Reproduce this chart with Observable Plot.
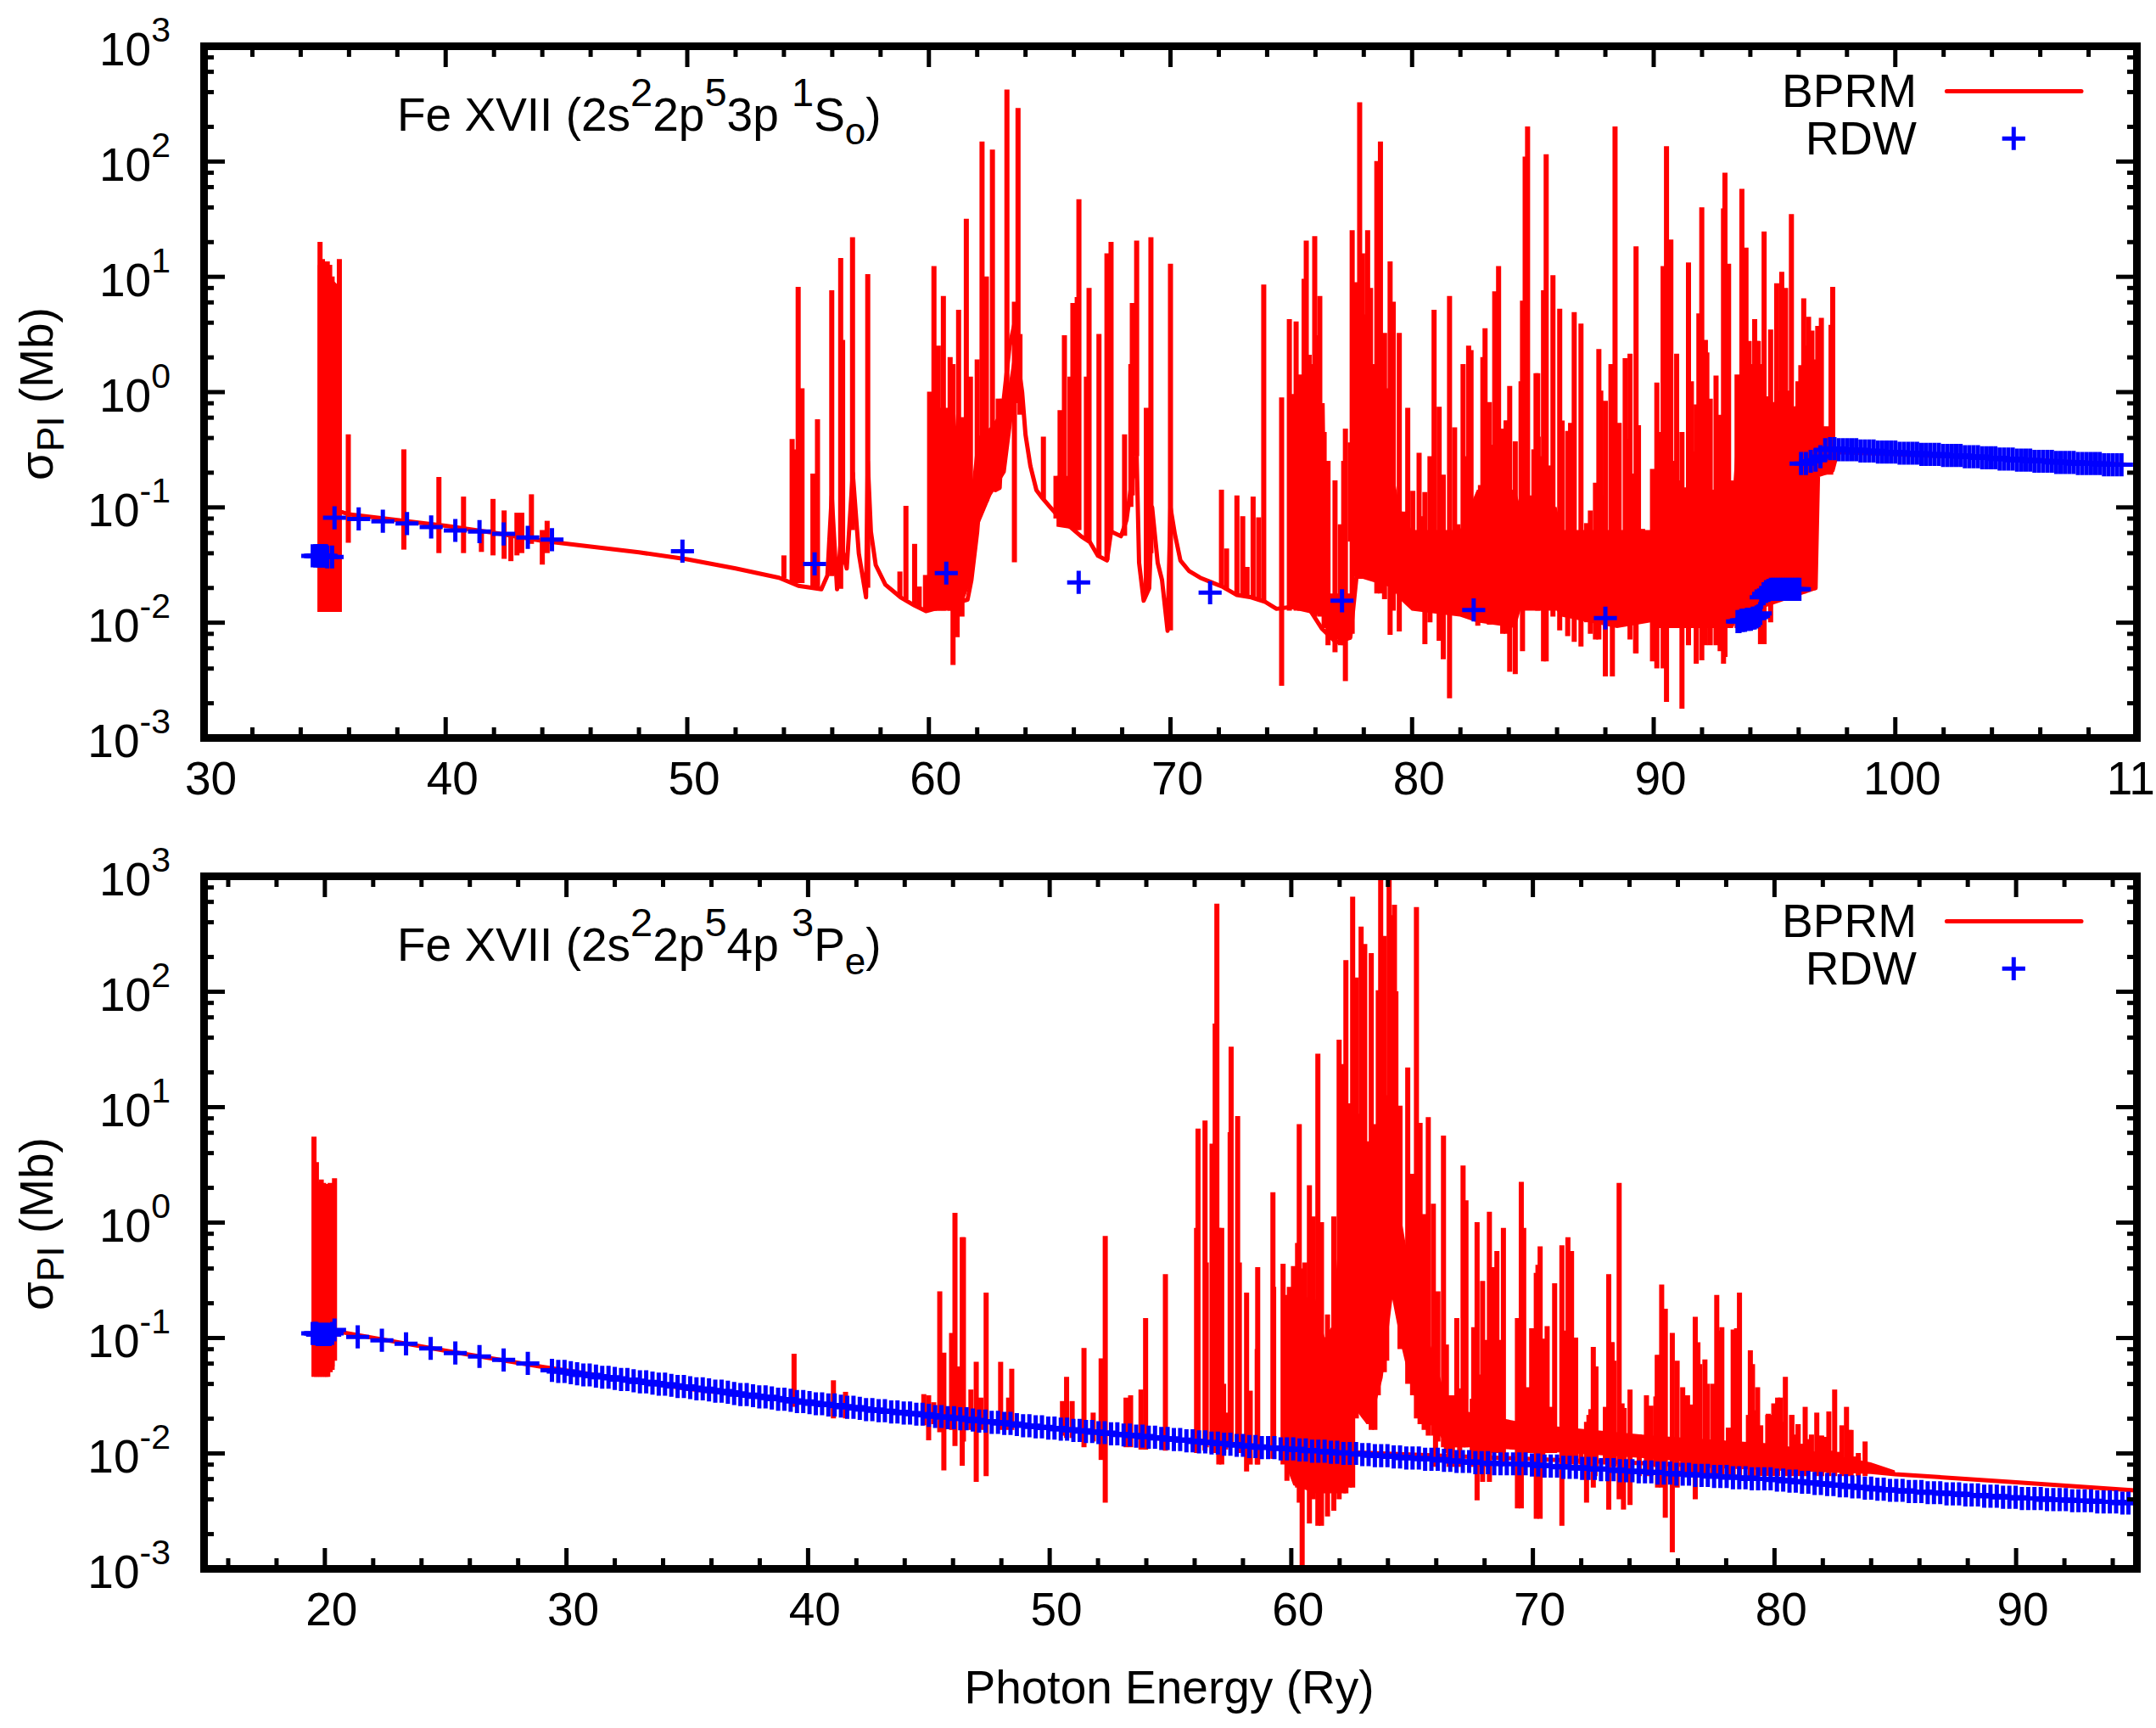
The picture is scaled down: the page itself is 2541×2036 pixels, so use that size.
<!DOCTYPE html>
<html><head><meta charset="utf-8">
<script src="https://cdn.jsdelivr.net/npm/d3@7"></script>
<script src="https://cdn.jsdelivr.net/npm/@observablehq/plot@0.6"></script>
<style>html,body{margin:0;padding:0;background:#fff;overflow:hidden}svg{display:block}</style>
</head><body><div id="c"></div>
<script>
// All sigma values below are log10(Mb).
const yMajor=[1e-3,1e-2,1e-1,1e0,1e1,1e2,1e3];
const yExponents=[-3,-2,-1,0,1,2,3];
const yMinor=[2e-3,4e-3,6e-3,8e-3,2e-2,4e-2,6e-2,8e-2,.2,.4,.6,.8,2,4,6,8,20,40,60,80,200,400,600,800];
const xMajorTop=[30,40,50,60,70,80,90,100,110];
const xMinorTop=[32,34,36,38,42,44,46,48,52,54,56,58,62,64,66,68,72,74,76,78,82,84,86,88,92,94,96,98,102,104,106,108];
const xMajorBottom=[20,30,40,50,60,70,80,90];
const xMinorBottom=[16,18,22,24,26,28,32,34,36,38,42,44,46,48,52,54,56,58,62,64,66,68,72,74,76,78,82,84,86,88,92,94];

// BPRM smooth background [E, log sigma]
const bprmBaseTop=[[35.7,-1.04],[36,-1.06],[38,-1.11],[40,-1.16],[42,-1.22],[44,-1.29],[46,-1.34],[48,-1.39],[50,-1.45],[52,-1.53],[53.8,-1.61],[54.6,-1.68],[55.55,-1.71],[55.8,-1.59],[55.98,-.9],[56.2,-1.71],[56.35,-1.3],[56.6,-1.53],[56.85,-.7],[57.1,-1.4],[57.4,-1.78],[57.47,-.6],[57.6,-1.21],[57.8,-1.5],[58.2,-1.67],[58.83,-1.78],[59.4,-1.85],[59.88,-1.9],[61.6,-1.8],[61.76,-1.63],[62,-1.21],[62.1,-.94],[62.4,-.94],[62.58,-.5],[62.75,-.85],[62.93,-.83],[63.1,-.06],[63.34,.4],[63.55,.6],[63.6,.4],[63.86,0],[64,-.37],[64.2,-.64],[64.45,-.85],[64.7,-.92],[65.03,-1],[65.5,-1.11],[65.85,-1.17],[66.3,-1.25],[66.66,-1.3],[67,-1.42],[67.37,-1.46],[67.54,-1.21],[67.95,-1.25],[68.18,-1.11],[68.36,-.83],[68.6,-.56],[68.7,-1.48],[68.89,-1.81],[69.12,-1.7],[69.24,-1],[69.47,-1.48],[69.65,-1.63],[69.88,-2.07],[70,-1],[70.18,-1.23],[70.41,-1.46],[70.76,-1.55],[71.23,-1.61],[71.7,-1.65],[72.17,-1.69],[72.75,-1.76],[73.34,-1.78],[73.92,-1.82],[74.39,-1.88],[75.09,-1.86],[75.68,-1.86],[76.26,-2.05],[76.85,-2.17],[77.44,-2.13],[77.7,-1.6],[96.7,-1.7],[96.8,-.72],[97.4,-.68],[97.6,-.52],[100,-.54],[105,-.58],[109.6,-.63]];
// BPRM resonance spikes [E, low, high]
const bprmPeaksTop=[[34.8,-1.91,1.3],[34.9,-1.91,1.15],[35,-1.91,1.13],[35.1,-1.91,1.13],[35.2,-1.91,1.1],[35.3,-1.91,1],[35.4,-1.91,.9],[35.5,-1.91,.9],[35.6,-1.91,1.15],
[35.97,-1.31,-.37],[38.27,-1.37,-.5],[39.72,-1.4,-.74],[40.74,-1.4,-.91],[41.48,-1.39,-1.2],[41.96,-1.42,-.93],[42.42,-1.45,-1.03],[42.7,-1.47,-1.25],[42.95,-1.42,-1.05],[43.15,-1.4,-1.05],[43.55,-1.32,-.89],[44,-1.5,-1.2],[44.2,-1.4,-1.12],
[54,-1.62,-1.42],[54.34,-1.66,-.41],[54.5,-1.66,-.5],[54.59,-1.66,.91],[54.75,-1.66,.03],[55.2,-1.7,-.71],[55.39,-1.7,-.24],[55.98,-1.6,.88],[56.35,-1.71,1.16],[56.43,-1.5,.45],[56.84,-1.2,1.34],[57.47,-1.7,1.02],[58.8,-1.78,-1.56],[59.05,-1.8,-.99],[59.41,-1.85,-1.32],[59.6,-1.87,-1.69],[59.86,-1.9,-1.59],[60.03,-1.9,0],[60.21,-1.9,1.09],[60.39,-1.9,.4],[60.6,-1.9,.83],[60.88,-1.9,.3],[61,-2.37,.24],[61.17,-2.13,-.3],[61.23,-1.9,.71],[61.37,-1.95,-.22],[61.55,-1.65,1.5],[61.72,-1.6,.13],[62,-1.1,.28],[62.2,-.9,2.17],[62.38,-.9,1],[62.63,-.85,2.1],[62.87,-.85,-.06],[63.05,-.6,-.06],[63.23,-.4,2.62],[63.54,-1.48,.78],[63.69,-.1,2.46],[63.77,-.2,.5],
[64.74,-.93,-.39],[65.26,-1.1,-.73],[65.43,-1.15,-.16],[65.61,-1.16,.49],[65.84,-1.17,.13],[65.96,-1.17,.77],[66.14,-1.2,.82],[66.21,-1.2,1.67],[66.52,-1.27,.13],[66.63,-1.3,.9],[67.04,-1.42,.5],[67.37,-1.46,1.2],[67.54,-1.21,1.3],[68.1,-1.25,-.37],[68.36,-1,.24],[68.42,-.9,.77],[68.6,-.56,1.31],[69,-1.75,-.14],[69.19,-1.4,1.34],[70,-2.07,1.11],[72.11,-1.69,-.85],[72.32,-1.72,-1.36],[72.75,-1.76,-.9],[72.99,-1.76,-1.08],[73.17,-1.77,-1.52],[73.42,-1.78,-.91],[73.65,-1.8,-1.09],[73.86,-1.82,.93],[74.6,-2.55,-.05],[74.92,-1.9,.63],[75.2,-1.9,.61],[75.36,-1.9,.15],[75.53,-1.9,.98],[75.62,-1.9,1.31],[75.82,-1.9,.24],[75.97,-1.95,1.35],[76.18,-1.95,.83],[76.36,-2.05,-.35],[76.52,-2.2,-.6],[76.81,-2.26,-.77],[77.03,-2.2,-1.15],[77.17,-2.2,-.6],[77.24,-2.51,-.32],[77.52,-2.1,1.4],[77.65,-1.6,.95],[77.83,-1.4,2.51],[77.95,-1.4,1.2],[78.16,-1.6,1.4],[78.28,-1.6,.9],[78.54,-1.75,2],[78.69,-1.75,2.17],[78.86,-1.8,.51],[79.09,-2.11,1.13],[79.22,-1.9,.78],[79.47,-2.08,.51],[79.82,-1.66,-.14],[80.03,-1.76,-.86],[80.29,-1.8,-.53],[80.53,-2.19,-.87],[80.74,-2,-.56],[80.91,-1.9,.71],[81.12,-2.16,-.13],[81.29,-2.32,-.72],[81.55,-2.66,.83],[81.76,-1.8,-.31],[82.11,-1.9,.24],[82.34,-1.85,.4],[82.44,-1.85,.36],[82.72,-2.03,-.96],[83.02,-2,.55],[83.2,-2.02,-.09],[83.42,-2.02,.87],[83.58,-2.02,1.09],[83.75,-2.1,-.32],[83.9,-2.1,-.25],[84.04,-2.43,.05],[84.27,-2.45,-.43],[84.57,-2.25,.79],[84.68,-1.75,2.04],[84.78,-1.75,2.3],[85.2,-1.9,.16],[85.44,-2.34,.88],[85.55,-2.34,2.06],[85.83,-1.95,1.01],[86.11,-2.07,.72],[86.44,-2.12,-.34],[86.71,-2.17,.69],[86.99,-2.21,.59],[87.22,-2,-1.14],[87.38,-2.1,-1.03],[87.59,-2.15,-.79],[87.73,-2.15,.37],[88,-2.47,-.08],[88.29,-2.47,.24],[88.4,-1.7,2.3],[88.82,-2,.29],[89.02,-2.15,.33],[89.25,-2.27,-.72],[89.27,-2.27,1.26],[89.54,-1.9,-1.19],[89.95,-2.34,-.67],[90.13,-2.4,.08],[90.39,-2.4,1.09],[90.53,-2.69,2.13],[90.71,-2,1.32],[90.95,-2,.33],[91.17,-2.75,-.35],[91.44,-2.2,1.12],[91.76,-2.36,-.11],[91.99,-2.33,1.6],[92.14,-2.2,.45],[92.34,-2.2,-.06],[92.58,-2.2,.14],[92.75,-2.25,-.2],[92.89,-2.36,1.59],[92.95,-2.3,1.9],[93.1,-2,1.11],[93.28,-1.86,-.83],[93.45,-2.05,.15],[93.65,-2.05,1.76],[93.82,-2.05,1.25],[93.95,-2.05,.44],[94.06,-2,.24],[94.18,-1.95,.63],[94.33,-2,.44],[94.42,-2.19,.24],[94.57,-2.19,1.39],[94.84,-2,.54],[95.09,-1.8,.94],[95.3,-1.75,1.04],[95.46,-1.75,.9],[95.7,-1.75,1.54],[96.21,-1.75,.81],[96.41,-1.72,.65],[96.55,-1.72,.53],[96.79,-.7,.57],[96.94,-.7,.64],[97.34,-.65,.58],[97.41,-.6,.91]];
// BPRM lesser spikes standing on the dense band [E, high]
const bprmMinorTop=[[75.09,-.02],[75.74,.32],[75.85,.24],[76.09,.49],[77.44,-.44],[77.76,-.67],[78.08,.67],[78.37,.24],[79.02,.03],[79.65,-1.04],[80.18,-1.21],[80.41,-1.08],[80.64,-1.21],[81.03,-1.5],[81.4,-1.37],[81.64,-1.55],[81.9,-1.15],[81.99,-1.65],[82.22,-.56],[82.52,-1.46],[82.75,-1.13],[82.83,-.81],[82.93,.3],[83.11,-.46],[83.3,-.46],[83.69,-.32],[83.78,-.5],[83.89,-.25],[84.16,-1.63],[84.39,-1.54],[84.51,.09],[84.92,-.9],[85.04,-.5],[85.13,.16],[85.22,-.39],[85.3,-.56],[85.64,-.75],[85.74,-.64],[85.95,-1.36],[86.21,-.25],[86.32,-1.25],[86.56,-.27],[87.12,-1.29],[87.49,-1.71],[87.81,.01],[87.9,-.9],[88.11,-1.71],[88.23,.24],[88.57,-.27],[88.67,-1.32],[88.9,-.41],[89.13,-.71],[89.37,-.29],[89.46,-1.29],[89.81,-1.63],[90.06,-.68],[90.18,-.37],[90.29,-.35],[90.78,-.6],[91.02,-.77],[91.29,-.83],[91.56,.09],[91.67,-.52],[91.87,.68],[92.2,.34],[92.49,-1.09],[93.22,-.77],[93.34,-.83],[93.81,.44],[93.92,.24],[94.04,.24],[94.27,.44],[94.68,-.04],[94.98,-.09],[95.21,.01],[95.59,.01],[95.97,.09],[96.09,.23],[96.32,.4],[96.64,.28]];
// BPRM densely resonant bands [E, low, high]
const bprmBandsTop=[
[[34.72,-1.91,1.1],[35.68,-1.91,.9]],
[[60,-1.9,-.14],[61,-1.9,-.14],[61.1,-1.85,-.14],[61.3,-1.9,-.8],[61.75,-1.65,-.9],[62,-1.2,-.4],[62.6,-.9,-.3],[63.2,-.7,-.1],[63.5,-.2,.3]],
[[65.3,-1.17,-.73],[66.2,-1.2,-.73]],
[[74.9,-1.88,-.1],[76.4,-1.95,-.1],[76.5,-2.15,-1.75],[77.5,-2.15,-1.75],[77.6,-1.6,-.65],[79.2,-1.7,-.65],[79.5,-1.8,-1],[80,-1.9,-1.2],[82,-1.95,-1.2],[82.7,-2,-.85],[84.3,-2.05,-.85],[84.5,-1.9,-1],[86,-1.9,-1],[86.2,-1.95,-1.2],[88.5,-2.05,-1.2],[89.9,-2,-1.2],[90,-2.05,-.85],[93.3,-2.05,-.85],[93.5,-1.95,-.2],[96.72,-1.72,-.1]],
[[96.72,-.72,-.3],[97.45,-.72,-.3]]];

// RDW points
const rdwTopE=[34.5,34.6,34.65,34.7,34.75,34.8,34.85,34.9,34.95,35,35.05,35.1,35.3,35.4,36.4,37.4,38.4,39.4,40.4,41.4,42.4,43.4,44.4,49.8,55.27,60.72,66.2,71.64,77.1,82.55,88,93.47,93.55,93.63,93.7,93.78,93.86,93.94,94.02,94.1,94.18,94.26,94.34,94.41,94.45,94.55,94.65,94.75,94.85,94.95,95.05,95.15,95.25,95.35,95.45,95.55,95.65,95.75,95.85,95.95,96.03,96.1,96.3,96.5,96.7,96.9,97.1,97.3,97.48,97.66,97.84,98.02,98.2,98.38,98.56,98.74,98.92,99.1,99.28,99.46,99.64,99.82,100,100.18,100.36,100.54,100.72,100.9,101.08,101.26,101.44,101.62,101.8,101.98,102.16,102.34,102.52,102.7,102.88,103.06,103.24,103.42,103.6,103.78,103.96,104.14,104.32,104.5,104.68,104.86,105.04,105.22,105.4,105.58,105.76,105.94,106.12,106.3,106.48,106.66,106.84,107.02,107.2,107.38,107.56,107.74,107.92,108.1,108.28,108.46,108.64,108.82,109,109.18,109.36,109.5];
const rdwTopS=[-1.42,-1.42,-1.42,-1.42,-1.42,-1.42,-1.42,-1.42,-1.42,-1.42,-1.42,-1.43,-1.43,-1.09,-1.1,-1.12,-1.14,-1.17,-1.2,-1.21,-1.23,-1.26,-1.28,-1.38,-1.49,-1.57,-1.65,-1.74,-1.81,-1.89,-1.96,-1.99,-1.99,-1.98,-1.98,-1.98,-1.97,-1.97,-1.97,-1.96,-1.96,-1.95,-1.94,-1.92,-1.78,-1.75,-1.73,-1.72,-1.71,-1.71,-1.71,-1.71,-1.71,-1.71,-1.71,-1.71,-1.71,-1.71,-1.71,-1.71,-1.71,-.62,-.62,-.6,-.59,-.56,-.5,-.49,-.49,-.5,-.5,-.5,-.5,-.5,-.51,-.51,-.51,-.51,-.52,-.52,-.52,-.52,-.52,-.53,-.53,-.53,-.53,-.53,-.54,-.54,-.54,-.54,-.54,-.55,-.55,-.55,-.55,-.55,-.56,-.56,-.56,-.56,-.57,-.57,-.57,-.57,-.58,-.58,-.58,-.58,-.59,-.59,-.59,-.59,-.6,-.6,-.6,-.6,-.6,-.61,-.61,-.61,-.61,-.61,-.62,-.62,-.62,-.62,-.62,-.62,-.63,-.63,-.63,-.63,-.63];

const bprmBaseBottom=[[20.45,-.94],[25,-1.11],[29,-1.25],[35,-1.44],[40,-1.56],[45,-1.67],[50,-1.78],[55,-1.88],[59.5,-1.95],[60,-1.97],[84,-2.16],[85,-2.18],[90,-2.25],[94.9,-2.32]];
const bprmPeaksBottom=[[19.55,-1.34,.74],[19.65,-1.34,.52],[19.75,-1.34,.35],[19.85,-1.34,.37],[19.95,-1.34,.34],[20.05,-1.34,.33],[20.12,-1.34,.2],[20.22,-1.3,.34],[20.3,-1.28,.3],[20.4,-1.2,.38],
[39.42,-1.6,-1.14],[41.05,-1.7,-1.37],[41.55,-1.7,-1.47],
[44.79,-1.76,-1.49],[44.99,-1.89,-1.5],[45.2,-1.75,-1.56],[45.45,-1.82,-.6],[45.62,-2.15,-1.13],[45.94,-1.8,-.96],[46.08,-1.94,.08],[46.25,-1.7,-1.25],[46.38,-2.11,-.13],[46.43,-1.9,-.13],[46.74,-1.8,-1.45],[46.96,-2.25,-1.21],[47.15,-1.8,-1.52],[47.37,-2.2,-.61],[47.97,-1.8,-1.21],[48.3,-1.8,-1.52],[48.43,-1.8,-1.27],[50.53,-1.85,-1.55],[50.7,-1.87,-1.34],[50.93,-1.87,-1.55],[51.42,-1.95,-1.09],[51.8,-1.9,-1.65],[52.13,-2.06,-1.18],[52.3,-2.43,-.12],[53.16,-1.95,-1.52],[53.35,-1.95,-1.5],[53.78,-1.97,-1.45],[53.97,-1.97,-.83],[54.79,-1.98,-.45],
[56.08,-2,-.05],[56.14,-2,.81],[56.43,-1.98,.88],[56.48,-1.95,-.35],[56.72,-2,.68],[56.85,-2,1.72],[56.92,-2,2.76],[57,-2.1,-.05],[57.12,-2.1,-.05],[57.2,-2,-1.4],[57.28,-1.97,-1.65],[57.47,-1.95,.78],[57.51,-1.95,1.52],[57.78,-1.95,.92],[57.85,-2,-.35],[58.15,-2.16,-.61],[58.3,-2.1,-1.46],[58.61,-2.1,-.39],[58.59,-2.1,-1.1],[59.24,-2.05,.26],[59.27,-2.05,-.56],[59.66,-2.1,-.36],[59.82,-2.24,-.63],[59.92,-2.1,-.56],[60.09,-2.2,-.38],[60.33,-2.43,.85],[60.26,-2.3,-.18],[60.45,-3,-.4],[60.56,-2.3,-.35],[60.75,-2.61,.32],[60.91,-2.4,.05],[61.1,-2.63,1.46],[61.25,-2.63,0],[61.5,-2.55,-.8],[61.76,-2.5,.05],[61.98,-2.4,1.58],[62.17,-2.35,1.37],[62.26,-2.35,2.27],[62.4,-2.3,1.03],[62.54,-2.3,2.82],[62.69,-1.7,2.12],[62.89,-1.4,2.56],[63.04,-1.5,2.41],[63.31,-1.8,2.33],[63.46,-1.8,.85],[63.6,-1.5,2.01],[63.7,-1.3,3],[63.85,-1.3,2.48],[63.95,-1.2,1.1],[64.05,-.67,3],[64.12,-.67,2.66],[64.27,-.67,2.75],[64.33,-.67,2],[64.5,-1.1,1.01],[64.82,-1.4,1.34],[65.02,-1.5,.42],[65.18,-1.7,2.73],[65.33,-1.75,.86],[65.5,-1.8,.07],[65.67,-1.85,.91],[65.88,-1.85,.16],[66.07,-1.9,-.6],[66.3,-1.95,.75],[66.42,-2,-1.06],[66.62,-2,-1.5],[66.85,-1.95,-.83],[67.11,-1.95,.49],[67.23,-1.95,.19],[67.55,-1.95,-.91],[67.69,-2.41,0],[67.92,-2.25,-.51],[68.2,-2.25,.09],[68.37,-2,-.39],[68.51,-2,-.25],[68.78,-2.1,-.05],
[69.36,-2.48,-.83],[69.52,-2.48,.35],[69.62,-2,-.05],[69.77,-2,-1.43],[69.95,-2,-.92],[70.14,-2.57,-.44],[70.3,-2.57,-.21],[70.59,-2,-.9],[70.73,-2,-1.6],[70.9,-2,-.53],[71.2,-2.63,-.2],[71.45,-2.1,-.13],[71.6,-2.1,-.25],[71.77,-2.1,-1],[71.99,-2.1,-1.8],[72.22,-2.43,-1.73],[72.5,-2.3,-1.08],[72.57,-2.2,-1.25],[73,-2.1,-1.6],[73.14,-2.49,-.45],[73.28,-2.1,-1.04],[73.57,-2.4,.34],[73.75,-2.49,-1.61],[74.02,-2.45,-1.45],[74.4,-2.2,-1.84],[74.7,-2.2,-1.5],[74.89,-2.2,-1.59],[75.16,-2.3,-1.15],[75.33,-2.3,-.54],[75.48,-2.56,-.75],[75.77,-2.86,-.96],[75.97,-2.3,-1.2],[76.2,-2.2,-1.43],[76.4,-2.2,-1.5],[76.58,-2.2,-1.58],[76.72,-2.4,-.82],[76.91,-2.2,-1.23],[77.12,-2.2,-1.19],[77.23,-2.2,-1.4],[77.45,-2.2,-1.4],[77.61,-2.2,-.63],[77.82,-2.2,-.91],[78.09,-2.2,-1.78],[78.29,-2.2,-.93],[78.55,-2.2,-.61],[79,-2.2,-1.11],[79.09,-2.2,-1.23],[79.3,-2.2,-1.43],[79.43,-2.2,-1.76],[79.72,-2.2,-1.67],[79.97,-2.2,-1.57],[80.13,-2.2,-1.52],[80.45,-2.2,-1.34],[80.72,-2.2,-1.67],[80.98,-2.2,-1.75],[81.27,-2.2,-1.6],[81.75,-2.2,-1.65],[81.95,-2.2,-1.85],[82.25,-2.2,-1.64],[82.49,-2.2,-1.45],[82.98,-2.2,-1.6],[82.79,-2.2,-1.76],[83.17,-2.2,-1.8],[83.47,-2.2,-2],[83.75,-2.2,-1.9]];
const bprmMinorBottom=[[65.97,-.62],[66.53,-1.5],[66.67,-1.5],[66.97,-1.44],[67.49,-1.53],[67.85,-1.32],[68.06,-1.02],[68.67,-1.02],[70.21,-.37],[70.41,-1.01],[71.32,-.94],[72.32,-1.67],[72.4,-1.62],[72.61,-1.25],[73.26,-1.04],[73.36,-1.2],[73.69,-1.57],[73.78,-1.61],[75.09,-1.51],[75.15,-1.15],[76.83,-1.04],[77.79,-.94],[78.43,-.92],[78.92,-1.67],[79.22,-1.63],[79.74,-1.66],[79.84,-1.67],[80.25,-1.52],[80.33,-1.73],[80.71,-1.67],[80.83,-1.84],[80.97,-1.75],[81.12,-1.92],[81.42,-1.88],[81.53,-1.84],[81.94,-1.85],[82.06,-1.86],[82.38,-1.98],[82.65,-1.99],[83.11,-1.8],[83.29,-2.03],[83.47,-2.04],[83.64,-2.09]];
const bprmBandsBottom=[
[[19.5,-1.34,.3],[20.42,-1.25,.3]],
[[59.6,-2,-.7],[60.1,-2.28,-.65],[61,-2.35,-.65],[61.4,-2.35,-1],[61.7,-2.35,-.9],[62,-2.35,-.1],[62.3,-2.3,1],[62.55,-2.2,1],[62.6,-1.6,1],[62.95,-1.7,.9],[63.03,-1.72,-.85],[63.13,-1.75,.7],[63.3,-1.75,.7],[63.8,-1.35,.7],[64.2,-.67,.7],[64.6,-1.1,0],[65,-1.45,-.5],[65.5,-1.7,-.9],[66,-1.8,-1.2],[66.5,-1.95,-1.6],[67.5,-1.95,-1.65],[70,-1.98,-1.75],[75,-2.05,-1.85],[80,-2.15,-1.92],[82,-2.16,-2],[84,-2.17,-2.08],[85,-2.17,-2.15]]];

const rdwBottomE=[19.5,19.6,19.65,19.7,19.75,19.8,19.85,19.9,19.95,20,20.05,20.1,20.15,20.2,20.3,20.4,21.36,22.36,23.36,24.38,25.4,26.4,27.4,28.4,
29.4,29.66,29.92,30.18,30.44,30.7,30.96,31.22,31.48,31.74,32,32.26,32.52,32.78,33.04,33.3,33.56,33.82,34.08,34.34,34.6,34.86,35.12,35.38,35.64,35.9,36.16,36.42,36.68,36.94,37.2,37.46,37.72,37.98,38.24,38.5,38.76,39.02,39.28,39.54,39.8,40.06,40.32,40.58,40.84,41.1,41.36,41.62,41.88,42.14,42.4,42.66,42.92,43.18,43.44,43.7,43.96,44.22,44.48,44.74,45,45.26,45.52,45.78,46.04,46.3,46.56,46.82,47.08,47.34,47.6,47.86,48.12,48.38,48.64,48.9,49.16,49.42,49.68,49.94,50.2,50.46,50.72,50.98,51.24,51.5,51.76,52.02,52.28,52.54,52.8,53.06,53.32,53.58,53.84,54.1,54.36,54.62,54.88,55.14,55.4,55.66,55.92,56.18,56.44,56.7,56.96,57.22,57.48,57.74,58,58.26,58.52,58.78,59.04,59.3,59.56,59.82,60.08,60.34,60.6,60.86,61.12,61.38,61.64,61.9,62.16,62.42,62.68,62.94,63.2,63.46,63.72,63.98,64.24,64.5,64.76,65.02,65.28,65.54,65.8,66.06,66.32,66.58,66.84,67.1,67.36,67.62,67.88,68.14,68.4,68.66,68.92,69.18,69.44,69.7,69.96,70.22,70.48,70.74,71,71.26,71.52,71.78,72.04,72.3,72.56,72.82,73.08,73.34,73.6,73.86,74.12,74.38,74.64,74.9,75.16,75.42,75.68,75.94,76.2,76.46,76.72,76.98,77.24,77.5,77.76,78.02,78.28,78.54,78.8,79.06,79.32,79.58,79.84,80.1,80.36,80.62,80.88,81.14,81.4,81.66,81.92,82.18,82.44,82.7,82.96,83.22,83.48,83.74,84,84.26,84.52,84.78,85.04,85.3,85.56,85.82,86.08,86.34,86.6,86.86,87.12,87.38,87.64,87.9,88.16,88.42,88.68,88.94,89.2,89.46,89.72,89.98,90.24,90.5,90.76,91.02,91.28,91.54,91.8,92.06,92.32,92.58,92.84,93.1,93.36,93.62,93.88,94.14,94.4,94.65];
const rdwBottomS=[-.96,-.96,-.96,-.97,-.97,-.97,-.97,-.97,-.97,-.97,-.97,-.97,-.97,-.97,-.96,-.93,-.99,-1.02,-1.05,-1.09,-1.13,-1.16,-1.19,-1.22,
-1.28,-1.29,-1.29,-1.3,-1.31,-1.32,-1.32,-1.33,-1.34,-1.34,-1.35,-1.36,-1.36,-1.37,-1.38,-1.38,-1.39,-1.4,-1.4,-1.41,-1.42,-1.42,-1.43,-1.44,-1.44,-1.45,-1.46,-1.46,-1.47,-1.48,-1.49,-1.49,-1.5,-1.51,-1.51,-1.52,-1.53,-1.53,-1.54,-1.55,-1.55,-1.56,-1.57,-1.57,-1.58,-1.58,-1.59,-1.6,-1.6,-1.61,-1.62,-1.62,-1.63,-1.63,-1.64,-1.64,-1.65,-1.65,-1.66,-1.66,-1.67,-1.68,-1.68,-1.69,-1.69,-1.7,-1.7,-1.71,-1.72,-1.72,-1.73,-1.73,-1.74,-1.74,-1.75,-1.76,-1.76,-1.77,-1.77,-1.78,-1.78,-1.79,-1.79,-1.8,-1.8,-1.81,-1.81,-1.82,-1.82,-1.83,-1.83,-1.84,-1.84,-1.85,-1.85,-1.86,-1.86,-1.87,-1.87,-1.88,-1.88,-1.89,-1.89,-1.9,-1.9,-1.91,-1.91,-1.92,-1.92,-1.93,-1.93,-1.94,-1.94,-1.95,-1.95,-1.95,-1.96,-1.96,-1.96,-1.97,-1.97,-1.98,-1.98,-1.98,-1.99,-1.99,-2,-2,-2,-2.01,-2.01,-2.02,-2.02,-2.02,-2.03,-2.03,-2.04,-2.04,-2.04,-2.05,-2.05,-2.05,-2.06,-2.06,-2.07,-2.07,-2.07,-2.08,-2.08,-2.08,-2.09,-2.09,-2.09,-2.09,-2.09,-2.09,-2.1,-2.1,-2.11,-2.11,-2.11,-2.12,-2.12,-2.12,-2.13,-2.13,-2.13,-2.14,-2.14,-2.14,-2.15,-2.15,-2.15,-2.16,-2.16,-2.16,-2.17,-2.17,-2.17,-2.18,-2.18,-2.18,-2.19,-2.19,-2.19,-2.2,-2.2,-2.2,-2.21,-2.21,-2.21,-2.22,-2.22,-2.22,-2.22,-2.23,-2.23,-2.24,-2.24,-2.25,-2.25,-2.26,-2.26,-2.27,-2.27,-2.28,-2.28,-2.29,-2.29,-2.3,-2.3,-2.31,-2.31,-2.32,-2.32,-2.32,-2.33,-2.33,-2.33,-2.34,-2.34,-2.34,-2.35,-2.35,-2.35,-2.36,-2.36,-2.36,-2.37,-2.37,-2.37,-2.38,-2.38,-2.38,-2.39,-2.39,-2.39,-2.39,-2.4,-2.4,-2.4,-2.4,-2.41,-2.41,-2.41,-2.41,-2.42,-2.42,-2.42,-2.42,-2.43,-2.43];

const seriesNames=["BPRM","RDW"];
const RED="#ff0000", BLUE="#0000ff", FONT="Liberation Sans", FS=55;

// text with super/subscripts; parts are [string, baselineShift, size]
function rich(parts,{x,y,anchor="start",rotate=0,fs=FS}){
  return ()=>{
    const t=d3.create("svg:text").attr("transform",`translate(${x},${y}) rotate(${rotate})`)
      .attr("text-anchor",anchor).attr("font-family",FONT).attr("font-size",fs).attr("fill","black");
    let cur=0;
    for(const [s,shift=0,size=fs] of parts){
      t.append("tspan").attr("dy",shift-cur).attr("font-size",size).text(s);
      cur=shift;
    }
    return t.node();
  };
}
function yLabels(){
  return (index,scales)=>{
    const g=d3.create("svg:g");
    yMajor.forEach((v,i)=>{
      const n=rich([["10"],[String(yExponents[i]),-28,41]],{x:201,y:scales.y(v)+23,anchor:"end"})();
      g.node().appendChild(n);
    });
    return g.node();
  };
}
const expand=a=>a.map(d=>({x:d[0],lo:10**d[1],hi:10**d[2]}));
const pts=a=>a.map(d=>({x:d[0],y:10**d[1]}));
const minor=(a,lo)=>a.map(d=>({x:d[0],lo:10**lo,hi:10**d[1]}));

function panel(c){
  const h=c.height, W=2541, SW=6;
  const tick={stroke:"black",strokeWidth:5,fill:"none",label:null};
  const rdw=c.rdwE.map((e,i)=>({x:e,y:10**c.rdwS[i]}));
  return Plot.plot({
    width:W,height:h,marginLeft:240,marginRight:23,marginTop:c.top,marginBottom:c.bottom,
    style:{background:"white",fontFamily:FONT,fontSize:FS+"px",color:"black",overflow:"visible"},
    x:{domain:c.xDomain,axis:null},
    y:{type:"log",domain:[1e-3,1e3],axis:null},
    marks:[
      ...c.bands.map(b=>Plot.areaY(expand(b),{x:"x",y1:"lo",y2:"hi",fill:RED,clip:true})),
      Plot.line(pts(c.base),{x:"x",y:"y",stroke:RED,strokeWidth:5,clip:true}),
      Plot.ruleX(expand(c.peaks),{x:"x",y1:"lo",y2:"hi",stroke:RED,strokeWidth:SW,clip:true}),
      Plot.ruleX(minor(c.minor,c.minorLo),{x:"x",y1:"lo",y2:"hi",stroke:RED,strokeWidth:SW,clip:true}),
      Plot.dot(rdw,{x:"x",y:"y",symbol:"plus",r:8.8,stroke:BLUE,strokeWidth:5,clip:true}),
      Plot.axisX(c.xMajor,{anchor:"bottom",tickSize:-24,...tick}),
      Plot.axisX(c.xMajor,{anchor:"top",tickSize:-24,...tick}),
      Plot.axisX(c.xMinor,{anchor:"bottom",tickSize:-12,...tick}),
      Plot.axisX(c.xMinor,{anchor:"top",tickSize:-12,...tick}),
      Plot.axisY(yMajor,{anchor:"left",tickSize:-25,...tick}),
      Plot.axisY(yMajor,{anchor:"right",tickSize:-25,...tick}),
      Plot.axisY(yMinor,{anchor:"left",tickSize:-12,...tick}),
      Plot.axisY(yMinor,{anchor:"right",tickSize:-12,...tick}),
      Plot.axisX(c.xMajor,{anchor:"bottom",tickSize:0,tickPadding:27,dx:8,fontSize:FS,label:null,tickFormat:d=>String(d),lineAnchor:"top"}),
      Plot.frame({stroke:"black",strokeWidth:9}),
      yLabels(),
      rich([["σ"],["PI",13,44],[" (Mb)",0,FS]],{x:62,y:c.top+512,rotate:-90}),
      rich(c.title,{x:468,y:c.top+100}),
      rich([[seriesNames[0]]],{x:2259,y:c.top+72,anchor:"end"}),
      rich([[seriesNames[1]]],{x:2259,y:c.top+128,anchor:"end"}),
      Plot.line(c.legendLine,{x:"x",y:"y",stroke:RED,strokeWidth:5}),
      Plot.dot(c.legendDot,{x:"x",y:"y",symbol:"plus",r:8.8,stroke:BLUE,strokeWidth:5}),
      ...(c.xlabel?[rich([[c.xlabel]],{x:1378,y:1007,anchor:"middle"})]:[])
    ]
  });
}
const sup=-29, sub=16;
const root=document.getElementById("c");
root.appendChild(panel({height:1000,top:54,bottom:131,xDomain:[30,110],xMajor:xMajorTop,xMinor:xMinorTop,
  bands:bprmBandsTop,base:bprmBaseTop,peaks:bprmPeaksTop,minor:bprmMinorTop,minorLo:-1.3,rdwE:rdwTopE,rdwS:rdwTopS,
  title:[["Fe XVII (2s"],["2",sup,47],["2p",0,FS],["5",sup,47],["3p ",0,FS],["1",sup,47],["S",0,FS],["o",sub,44],[")",0,FS]],
  legendLine:[{x:102.13,y:10**2.61},{x:107.7,y:10**2.61}],legendDot:[{x:104.9,y:10**2.2}]}));
root.appendChild(panel({height:1036,top:32,bottom:188,xDomain:[15,95],xMajor:xMajorBottom,xMinor:xMinorBottom,
  bands:bprmBandsBottom,base:bprmBaseBottom,peaks:bprmPeaksBottom,minor:bprmMinorBottom,minorLo:-2.12,rdwE:rdwBottomE,rdwS:rdwBottomS,
  title:[["Fe XVII (2s"],["2",sup,47],["2p",0,FS],["5",sup,47],["4p ",0,FS],["3",sup,47],["P",0,FS],["e",sub,44],[")",0,FS]],
  legendLine:[{x:87.13,y:10**2.61},{x:92.7,y:10**2.61}],legendDot:[{x:89.9,y:10**2.2}],xlabel:"Photon Energy (Ry)"}));
</script></body></html>
